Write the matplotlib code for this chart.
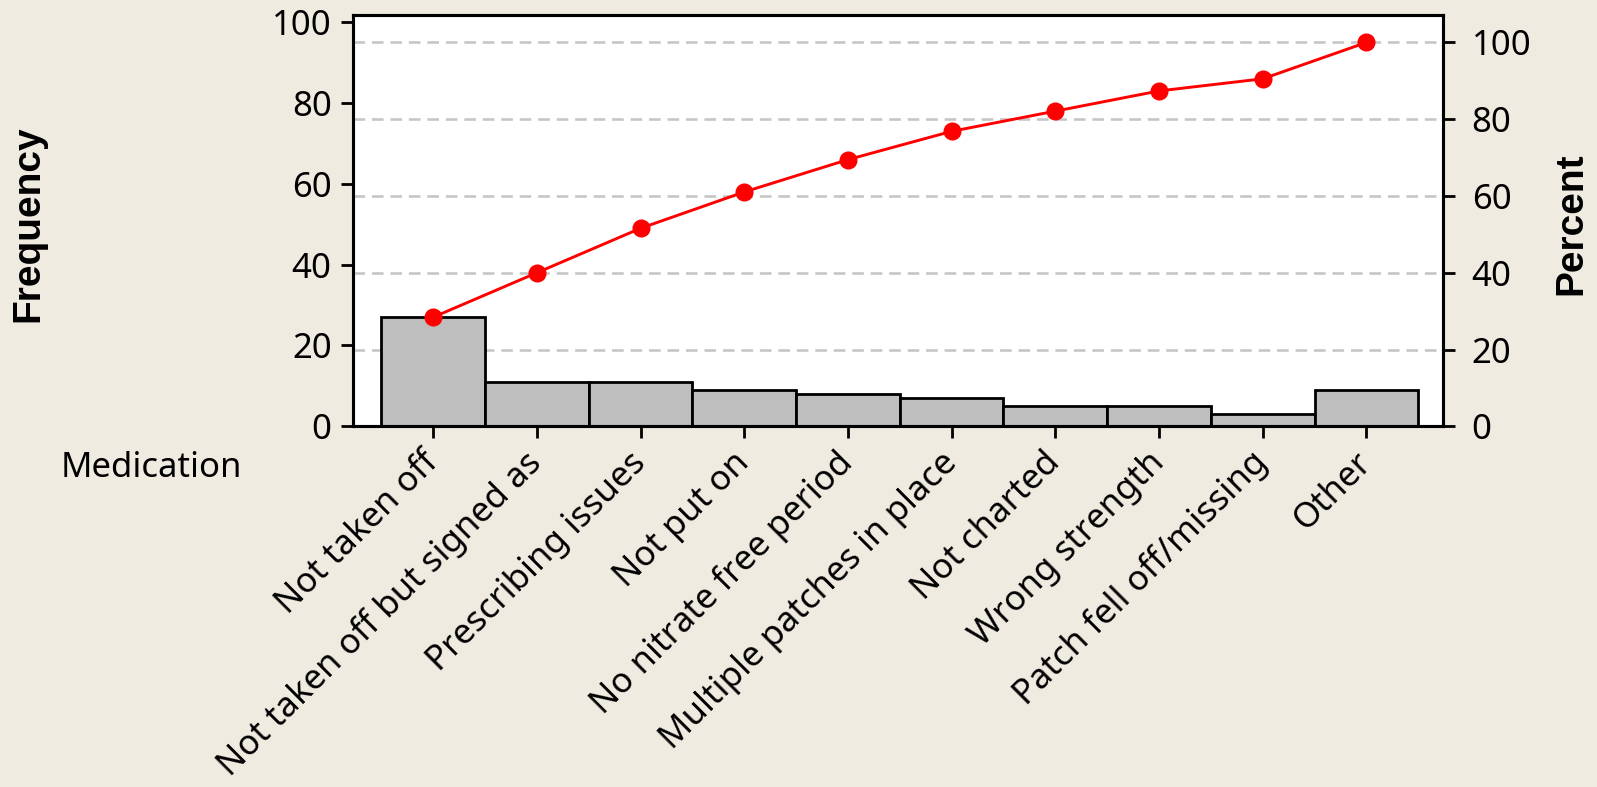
import numpy as np
import matplotlib.pyplot as plt

plt.rcParams['font.family'] = ['Noto Sans', 'DejaVu Sans']

# Pareto data (Medication errors)
categories = ['Not taken off', 'Not taken off but signed as', 'Prescribing issues',
              'Not put on', 'No nitrate free period', 'Multiple patches in place',
              'Not charted', 'Wrong strength', 'Patch fell off/missing', 'Other']
counts = [27, 11, 11, 9, 8, 7, 5, 5, 3, 9]
freq_ticks = [0, 20, 40, 60, 80, 100]
pct_ticks = [0, 20, 40, 60, 80, 100]

BG = '#F0EBE1'
FS = 25

total = sum(counts)
x = np.arange(len(counts))
cum_pct = np.cumsum(counts) / total * 100

fig = plt.figure(figsize=(15.97, 7.87), dpi=100, facecolor=BG)
ax = fig.add_axes([0.2212, 0.4583, 0.6825, 0.5227])
ax.set_facecolor('white')

# dashed grid at the percent ticks, behind the bars
for p in pct_ticks[1:]:
    ax.axhline(p * total / 100, color='#C6C6C6', lw=1.9, ls=(0, (4.4, 2.6)), zorder=1)

ax.bar(x, counts, width=1.0, color='#BEBEBE', edgecolor='black', linewidth=2, zorder=2)
ax.set_xlim(-0.77, 9.74)
ax.set_ylim(0, 101.8)
ax.set_yticks(freq_ticks)
ax.set_xticks(x)
ax.set_xticklabels(categories, rotation=45, ha='right', va='center', rotation_mode='anchor')

ax2 = ax.twinx()
ax2.set_ylim(0, 101.8 / total * 100)
ax2.set_yticks(pct_ticks)
ax2.plot(x, cum_pct, color='#FF0000', lw=2.1, marker='o', ms=12, zorder=3, clip_on=False)

for a in (ax, ax2):
    for s in a.spines.values():
        s.set_linewidth(2.2)
    a.tick_params(labelsize=FS, width=2, length=8.5, color='black')
ax.tick_params(axis='y', pad=7)
ax.tick_params(axis='x', pad=14)
ax2.tick_params(axis='y', pad=12)

fig.text(0.038, 0.405, 'Medication', ha='left', va='center', fontsize=FS)
bold_fam = ['Liberation Sans', 'DejaVu Sans']
fig.text(0.018, 0.716, 'Frequency', rotation=90, ha='center', va='center',
         fontsize=28, fontweight='bold', family=bold_fam)
fig.text(0.984, 0.716, 'Percent', rotation=90, ha='center', va='center',
         fontsize=28, fontweight='bold', family=bold_fam)

fig.savefig('out.png', dpi=100, facecolor=BG)
